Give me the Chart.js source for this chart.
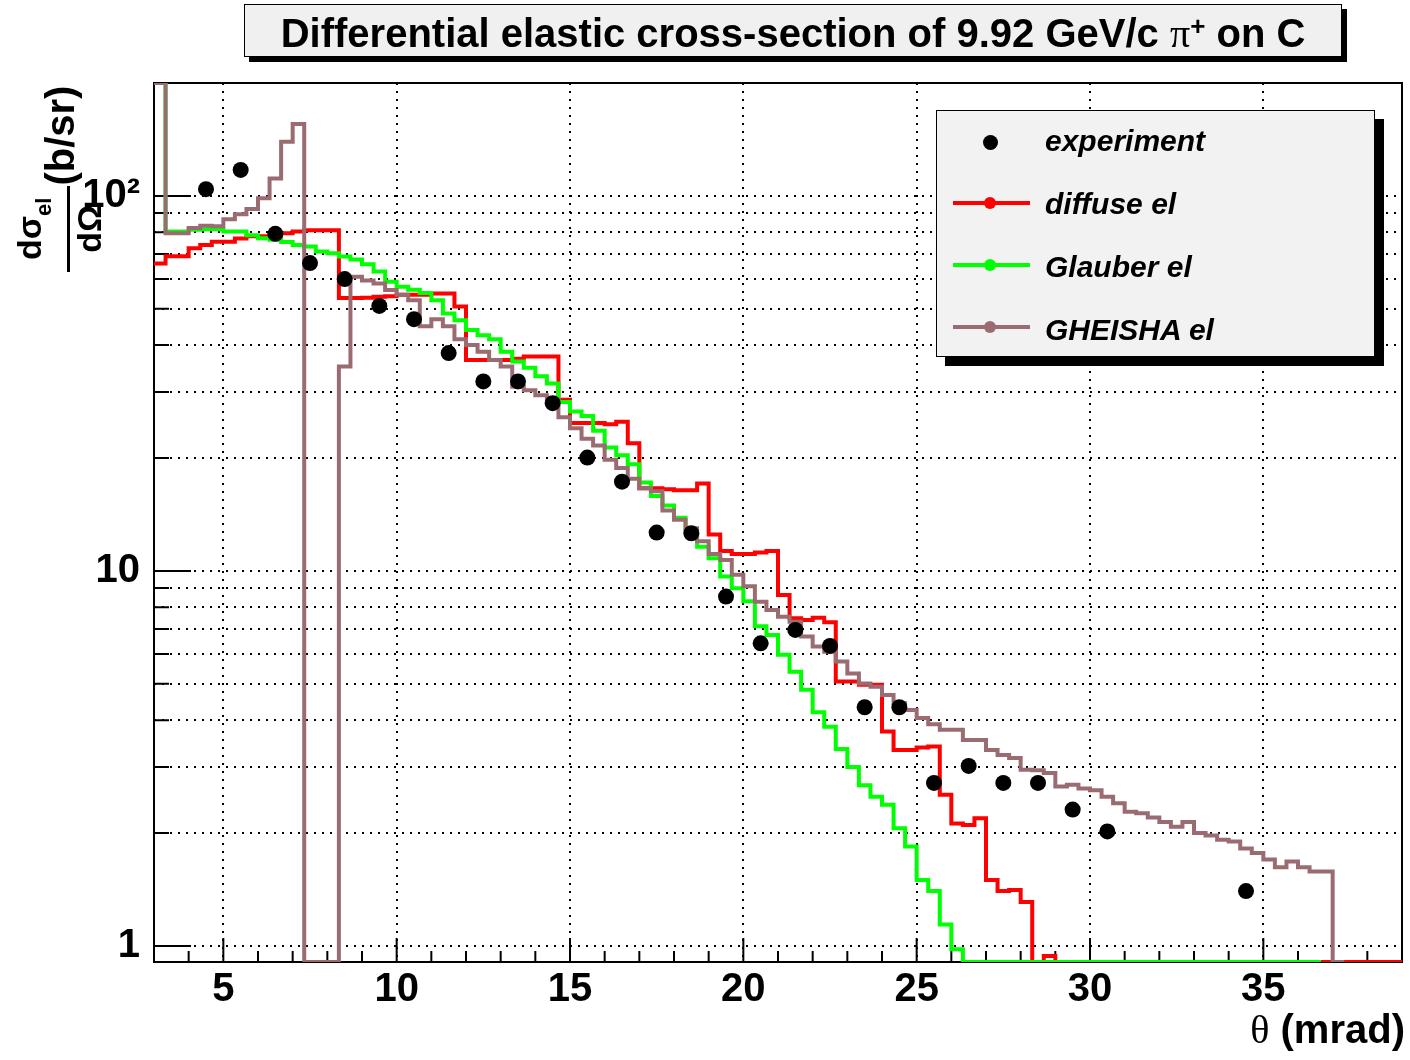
<!DOCTYPE html>
<html>
<head>
<meta charset="utf-8">
<title>Differential elastic cross-section of 9.92 GeV/c pi+ on C</title>
<script src="https://cdn.jsdelivr.net/npm/chart.js@4.4.1/dist/chart.umd.min.js"></script>
<style>
    body { margin: 0; background: #fff; }
    #wrap { position: relative; width: 1410px; height: 1060px; font-family: "Liberation Sans", Arial, sans-serif; color: #000; }
    #grafica { position: absolute; left: 0; top: 0; }

    #titulo {
        position: absolute; left: 244px; top: 4px; width: 1096px; height: 48px; padding-top: 3px;
        border: 1px solid #000; background: #f0f0f0; box-shadow: 5px 5px 0 #000;
        text-align: center; font-weight: bold; font-size: 40px; line-height: 51px; white-space: nowrap; overflow: visible;
    }
    #titulo .sym { font-family: "Liberation Serif", serif; font-weight: normal; }
    #titulo .sup { font-size: 26px; position: relative; top: -12px; }

    #leyenda {
        position: absolute; left: 936px; top: 110px; width: 437px; height: 245px;
        border: 1px solid #000; background: #f2f2f2; box-shadow: 9px 9px 0 #000;
    }
    #leyenda .lbl { position: absolute; left: 108px; font: italic bold 30px/30px "Liberation Sans", Arial, sans-serif; white-space: nowrap; }
    #leyenda .ln { position: absolute; left: 16px; width: 77px; height: 4px; }
    #leyenda .dot { position: absolute; border-radius: 50%; }

    #ytitulo {
        position: absolute; left: 12px; top: 272px; transform-origin: 0 0; transform: rotate(-90deg);
        display: flex; align-items: flex-start; white-space: nowrap; font-weight: bold;
    }
    #ytitulo .frac { display: flex; flex-direction: column; align-items: center; }
    #ytitulo .num { font-size: 34px; line-height: 34px; padding: 0 12px 16px; border-bottom: 3px solid #000; }
    #ytitulo .sub { font-size: 22px; position: relative; top: 10px; }
    #ytitulo .den { font-size: 34px; line-height: 34px; padding-top: 2px; }
    #ytitulo .unit { font-size: 40px; line-height: 40px; margin-top: 28px; }

    #xtitulo { position: absolute; right: 5px; top: 1009px; font: bold 40px/40px "Liberation Sans", Arial, sans-serif; white-space: nowrap; }
    #xtitulo .sym { font-family: "Liberation Serif", serif; font-weight: normal; }
</style>
</head>
<body>
<div id="wrap">
    <canvas id="grafica" width="1410" height="1060"></canvas>

    <div id="titulo">Differential elastic cross-section of 9.92 GeV/c <span class="sym">π</span><span class="sup">+</span> on C</div>

    <div id="leyenda">
        <span class="dot" style="left:46px; top:24px; width:15px; height:15px; background:#000"></span>
        <span class="lbl" style="top:15px">experiment</span>

        <span class="ln" style="top:90px; background:#ff0000"></span>
        <span class="dot" style="left:47px; top:86px; width:12px; height:12px; background:#ff0000"></span>
        <span class="lbl" style="top:78px">diffuse el</span>

        <span class="ln" style="top:152px; background:#00ff00"></span>
        <span class="dot" style="left:47px; top:148px; width:12px; height:12px; background:#00ff00"></span>
        <span class="lbl" style="top:141px">Glauber el</span>

        <span class="ln" style="top:214px; background:#9a6c72"></span>
        <span class="dot" style="left:47px; top:210px; width:12px; height:12px; background:#9a6c72"></span>
        <span class="lbl" style="top:204px">GHEISHA el</span>
    </div>

    <div id="ytitulo"><span class="frac"><span class="num">dσ<span class="sub">el</span></span><span class="den">dΩ</span></span><span class="unit">(b/sr)</span></div>

    <div id="xtitulo"><span class="sym">θ</span> (mrad)</div>
</div>

<script>
// ======================
// DATOS
// ======================
// histogram bins start at 3 mrad, 1/3 mrad wide; 0 = empty bin
const binStart = 3;
const binWidth = 1 / 3;

const diffuseEl = [
    66, 69, 69, 72.5, 74, 75.5, 75.5, 77, 78, 78, 78.3, 79.5, 80.3, 81, 81, 81,
    53.4, 53.4, 53.5, 53.8, 54, 54.5, 54.5, 54.5, 54.9, 54.9, 50.7,
    36.5, 36.5, 36.5, 36.5, 36.8, 37.3, 37.3, 37.3, 28.6,
    24.8, 24.8, 24.8, 24.6, 25.0, 21.9, 16.6, 16.6, 16.5, 16.4, 16.4, 17.1,
    12.5, 11.3, 11.1, 11.1, 11.2, 11.3, 8.63, 7.48, 7.4, 7.5, 7.3,
    5.07, 5.07, 4.97, 4.97, 3.73, 3.33, 3.33, 3.38, 3.40,
    2.53, 2.12, 2.10, 2.19, 1.50, 1.40, 1.41, 1.31, 0, 0.94,
    0, 0, 0, 0, 0, 0, 0, 0, 0, 0, 0, 0, 0, 0, 0,
    0, 0, 0, 0, 0, 0, 0, 0, 0, 0, 0, 0, 0, 0, 0
];

const glauberEl = [
    500, 80.3, 80.3, 81.2, 81.5, 81.5, 80.3, 80.3, 78.5, 77.1, 76.4, 75.3, 74, 73.3,
    71.1, 70.3, 68.9, 67.7, 65.7, 62.9, 59.0, 57.2, 56.2, 55.1, 52.7, 48.6, 46.6,
    43.9, 42.5, 41.5, 38.4, 36.2, 34.8, 33.05, 31.6, 28.2, 26.6, 25.9, 23.65,
    21.35, 20.35, 19.25, 17.2, 15.85, 14.95, 13.85, 12.8, 11.6, 10.8, 9.66,
    8.99, 8.3, 7.12, 6.75, 5.98, 5.38, 4.82, 4.2, 3.84, 3.35, 3.0, 2.68, 2.5,
    2.38, 2.06, 1.84, 1.50, 1.40, 1.14, 0.98,
    0, 0, 0, 0, 0, 0, 0, 0, 0, 0, 0, 0, 0, 0, 0, 0,
    0, 0, 0, 0, 0, 0, 0, 0, 0, 0, 0, 0, 0, 0, 0
];

const gheishaEl = [
    500, 79.5, 79.5, 82.1, 83.3, 83, 86.7, 89.4, 92.3, 98.5, 111.2, 139.5, 155.4,
    0, 0, 0, 35.1,
    60.9, 59.5, 58.4, 56.1, 54.5, 52.7, 44.9, 46.9, 44.9, 41.5, 40.0, 38.4,
    36.5, 35.1, 31.0, 30.3, 29.4, 28.6, 25.7, 24.0, 22.5, 21.6, 19.8, 18.8,
    17.6, 16.6, 16.3, 14.5, 13.7, 13.0, 12.0, 11.1, 10.7, 9.76, 9.1, 8.28,
    7.87, 7.55, 7.32, 6.68, 6.29, 6.09, 5.73, 5.33, 5.01, 4.91, 4.67, 4.44,
    4.26, 4.05, 3.9, 3.77, 3.77, 3.54, 3.54, 3.33, 3.23, 3.17, 2.95, 2.94,
    2.89, 2.66, 2.69, 2.63, 2.60, 2.50, 2.40, 2.28, 2.26, 2.2, 2.14, 2.08,
    2.14, 2.00, 1.97, 1.92, 1.90, 1.82, 1.77, 1.70, 1.62, 1.68, 1.62, 1.58,
    1.58, 0
];

const expTheta = [
    4.5, 5.5, 6.5, 7.5, 8.5, 9.5, 10.5, 11.5, 12.5, 13.5, 14.5, 15.5, 16.5, 17.5,
    18.5, 19.5, 20.5, 21.5, 22.5, 23.5, 24.5, 25.5, 26.5, 27.5, 28.5, 29.5, 30.5, 34.5
];
const expXsec = [
    104.2, 117.3, 79.2, 66.2, 60.0, 50.9, 46.9, 38.1, 32.0, 32.0, 28.0, 20.05, 17.3, 12.65,
    12.6, 8.54, 6.41, 6.96, 6.31, 4.33, 4.33, 2.72, 3.02, 2.72, 2.72, 2.31, 2.02, 1.40
];

const xTickVals = [5, 10, 15, 20, 25, 30, 35];
const yTickVals = [1, 2, 3, 4, 5, 6, 7, 8, 9, 10, 20, 30, 40, 50, 60, 70, 80, 90, 100];
const yTickLabels = { 1: "1", 10: "10", 100: "10²" };

const X_MIN = 3, X_MAX = 39;
const Y_MIN = 0.906, Y_MAX = 200;

const colorDiffuse = "#ff0000";
const colorGlauber = "#00ff00";
const colorGheisha = "#9a6c72";

// ======================
// HISTOGRAMAS
// ======================
// empty bins sit on the frame floor, overflowing ones on the frame top (like ROOT)
function puntosHistograma(vals) {
    const ajustar = v => Math.min(Math.max(v, Y_MIN), Y_MAX);
    const pts = vals.map((v, k) => ({ x: binStart + k * binWidth, y: ajustar(v) }));
    pts.push({ x: binStart + vals.length * binWidth, y: ajustar(vals[vals.length - 1]) });
    return pts;
}

function serieHistograma(label, vals, color) {
    return {
        label: label,
        data: puntosHistograma(vals),
        borderColor: color,
        borderWidth: 4,
        stepped: "before",
        pointRadius: 0,
        fill: false,
        tension: 0,
        borderCapStyle: "butt",
        borderJoinStyle: "miter"
    };
}

// frame + inward tick marks, drawn under the data
const marcoEjes = {
    id: "marcoEjes",
    beforeDatasetsDraw(chart) {
        const { ctx, chartArea: a, scales: { x, y } } = chart;
        ctx.save();
        ctx.strokeStyle = "#000";
        ctx.lineWidth = 2;
        ctx.beginPath();
        for (let t = X_MIN + 1; t < X_MAX; t++) {
            const px = x.getPixelForValue(t);
            const len = t % 5 === 0 ? 24 : 11;
            ctx.moveTo(px, a.bottom);
            ctx.lineTo(px, a.bottom - len);
        }
        yTickVals.forEach(v => {
            const py = y.getPixelForValue(v);
            const len = yTickLabels[v] ? 37 : 15;
            ctx.moveTo(a.left, py);
            ctx.lineTo(a.left + len, py);
        });
        ctx.stroke();
        ctx.strokeRect(a.left, a.top, a.right - a.left, a.bottom - a.top);
        ctx.restore();
    }
};

Chart.defaults.font.family = '"Liberation Sans", Arial, sans-serif';
Chart.defaults.color = "#000";

const fuenteTicks = { size: 40, weight: "bold" };

new Chart(document.getElementById("grafica").getContext("2d"), {
    type: "line",
    data: {
        datasets: [
            {
                label: "experiment",
                data: expTheta.map((t, i) => ({ x: t, y: expXsec[i] })),
                showLine: false,
                pointRadius: 8,
                pointBackgroundColor: "#000",
                pointBorderWidth: 0
            },
            serieHistograma("GHEISHA el", gheishaEl, colorGheisha),
            serieHistograma("Glauber el", glauberEl, colorGlauber),
            serieHistograma("diffuse el", diffuseEl, colorDiffuse)
        ]
    },
    options: {
        responsive: false,
        animation: false,
        events: [],
        layout: { padding: { left: 0, right: 3, top: 83, bottom: 0 } },
        plugins: {
            legend: { display: false },
            tooltip: { enabled: false },
            title: { display: false }
        },
        scales: {
            x: {
                type: "linear",
                min: X_MIN,
                max: X_MAX,
                afterBuildTicks: s => { s.ticks = xTickVals.map(v => ({ value: v })); },
                afterFit: s => { s.height = 98; },
                grid: { color: "#000", lineWidth: 2, drawTicks: false },
                border: { display: false, dash: [2, 6] },
                ticks: {
                    font: fuenteTicks,
                    padding: 4,
                    maxRotation: 0,
                    autoSkip: false,
                    callback: v => String(v)
                }
            },
            y: {
                type: "logarithmic",
                min: Y_MIN,
                max: Y_MAX,
                afterBuildTicks: s => { s.ticks = yTickVals.map(v => ({ value: v })); },
                afterFit: s => { s.width = 154; },
                grid: { color: "#000", lineWidth: 2, drawTicks: false },
                border: { display: false, dash: [2, 6] },
                ticks: {
                    font: fuenteTicks,
                    padding: 14,
                    autoSkip: false,
                    callback: v => yTickLabels[v] || ""
                }
            }
        }
    },
    plugins: [marcoEjes]
});
</script>
</body>
</html>
